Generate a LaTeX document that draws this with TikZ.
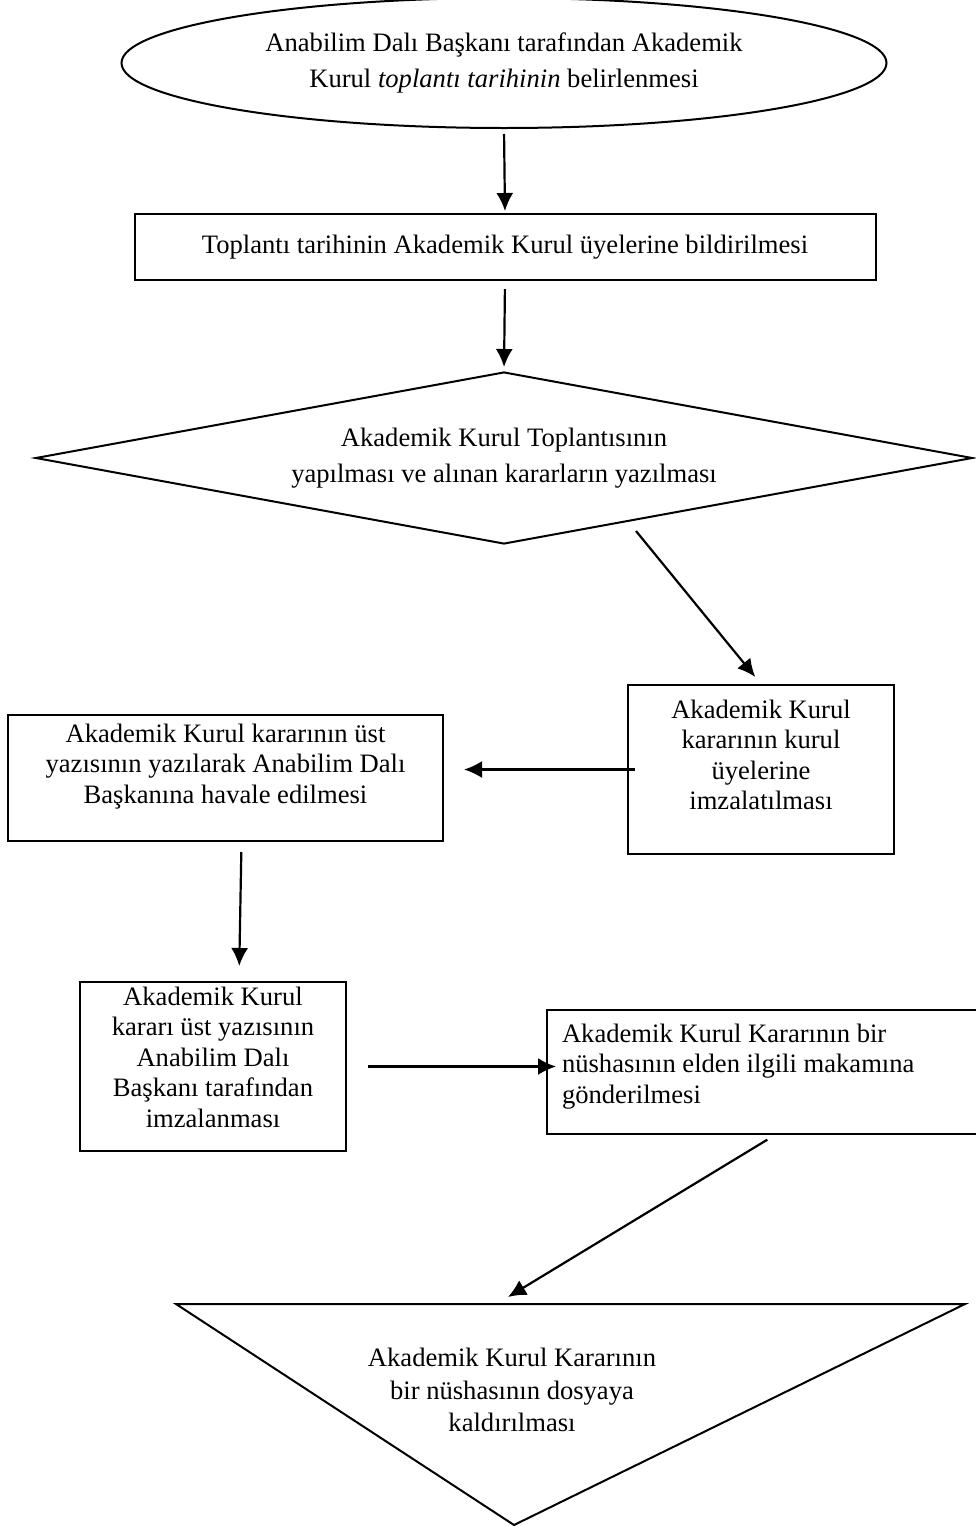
\documentclass[tikz,border=0pt]{standalone}
\usepackage{fontspec}
\setmainfont{Liberation Serif}
\usetikzlibrary{shapes.geometric,arrows.meta,positioning}

\begin{document}
\begin{tikzpicture}[
    x=0.5pt, y=-0.5pt,
    txt/.style={font=\fontsize{13.3}{15.3}\selectfont},
    proc/.style={txt, draw, line width=1pt, inner xsep=4pt, inner ysep=0pt},
    arr/.style={-{Latex[length=9pt,width=8.5pt]}, line width=1.1pt},
]
    \useasboundingbox (0,0) rectangle (975,1526);

    % Start: ellipse
    \node[proc, ellipse, minimum width=382.5pt, minimum height=65pt, align=center] (start) at (504,63) {
        Anabilim Dalı Başkanı tarafından Akademik\\[2.5pt]
        Kurul \textit{toplantı tarihinin} belirlenmesi
    };

    % Notification
    \node[proc, minimum width=370.5pt, minimum height=33pt, align=center] (notify) at (505,247)
        {Toplantı tarihinin Akademik Kurul üyelerine bildirilmesi};

    % Meeting: diamond
    \node[proc, diamond, shape aspect=5.4, minimum width=468.5pt, minimum height=86pt, align=center] (meeting) at (504,458) {
        Akademik Kurul Toplantısının\\[2.5pt]
        yapılması ve alınan kararların yazılması
    };

    % Boxes in the middle rows
    \node[proc, text width=125pt, text height=16.5pt, text depth=68pt, align=flush center] (sign) at (761,769.5) {
        Akademik Kurul\\ kararının kurul\\ üyelerine\\ imzalatılması
    };
    \node[proc, text width=209.5pt, text height=13.5pt, text depth=49.5pt, align=flush center] (forward) at (225.5,778) {
        Akademik Kurul kararının üst\\ yazısının yazılarak Anabilim Dalı\\ Başkanına havale edilmesi
    };
    \node[proc, text width=125pt, text height=11.5pt, text depth=73pt, align=flush center] (approve) at (213,1066.5) {
        Akademik Kurul\\ kararı üst yazısının\\ Anabilim Dalı\\ Başkanı tarafından\\ imzalanması
    };
    \node[proc, inner xsep=7.5pt, text width=204pt, text height=16pt, text depth=46pt, align=flush left] (send) at (766,1072) {
        Akademik Kurul Kararının bir\\ nüshasının elden ilgili makamına\\ gönderilmesi
    };

    % End: inverted triangle
    \coordinate (tl) at (176,1304);
    \coordinate (tr) at (965,1304);
    \coordinate (tb) at (514,1525);
    \draw[line width=1pt] (tl) -- (tr) -- (tb) -- cycle;
    \node[txt, align=center] (store) at (512,1390) {
        Akademik Kurul Kararının\\[1pt] bir nüshasının dosyaya\\[1pt] kaldırılması
    };

    % Free ends of the slanted arrows
    \coordinate (cut) at (636,531);
    \coordinate (drop) at (508,1297);

    % Arrows
    \draw[arr, shorten <=2.5pt, shorten >=1pt] (start.south) -- (notify.north);
    \draw[arr, shorten <=4pt, shorten >=2pt] (notify.south) -- (meeting.north);
    \draw[arr, shorten >=4.5pt] (cut) -- (sign.north);
    \draw[arr, shorten <=-4pt, shorten >=10pt] (sign.west) -- (sign.west -| forward.east);
    \draw[arr, shorten <=5pt, shorten >=7.5pt] ([xshift=8pt]forward.south) -- ([xshift=13pt]approve.north);
    \draw[arr, shorten <=10.5pt, shorten >=-5pt] (approve.east) -- (approve.east -| send.west);
    \draw[arr, shorten <=4.5pt] ([xshift=4.5pt]send.south) -- (drop);
\end{tikzpicture}
\end{document}
